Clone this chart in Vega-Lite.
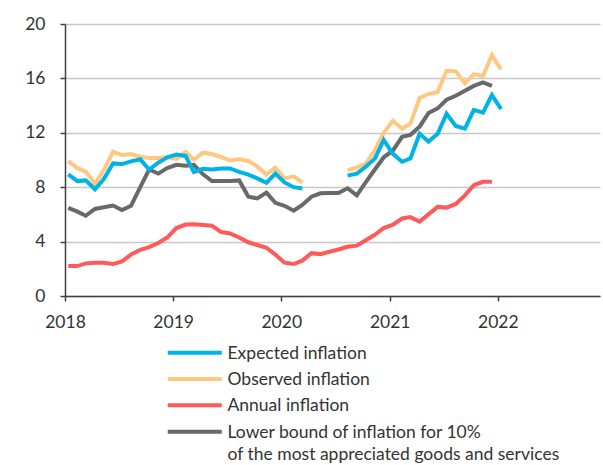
{
  "$schema": "https://vega.github.io/schema/vega-lite/v6.json",
  "width": 535,
  "height": 272,
  "autosize": {"type": "none"},
  "padding": {"left": 65, "top": 24, "right": 3, "bottom": 169},
  "background": "white",
  "config": {
    "view": {"stroke": null},
    "font": "Lato",
    "mark": {"invalid": "break-paths-show-domains"}
  },
  "data": {
    "values": [
      {"date": "2018-01-12", "exp": 8.95, "obs": 9.92, "ann": 2.2, "low": 6.48},
      {"date": "2018-02-12", "exp": 8.45, "obs": 9.4, "ann": 2.2, "low": 6.2},
      {"date": "2018-03-12", "exp": 8.5, "obs": 9.15, "ann": 2.4, "low": 5.9},
      {"date": "2018-04-12", "exp": 7.85, "obs": 8.25, "ann": 2.45, "low": 6.4},
      {"date": "2018-05-12", "exp": 8.6, "obs": 9.26, "ann": 2.45, "low": 6.52},
      {"date": "2018-06-12", "exp": 9.75, "obs": 10.6, "ann": 2.35, "low": 6.65},
      {"date": "2018-07-12", "exp": 9.7, "obs": 10.37, "ann": 2.55, "low": 6.32},
      {"date": "2018-08-12", "exp": 9.9, "obs": 10.44, "ann": 3.05, "low": 6.64},
      {"date": "2018-09-12", "exp": 10.05, "obs": 10.24, "ann": 3.4, "low": 8.0},
      {"date": "2018-10-12", "exp": 9.3, "obs": 10.15, "ann": 3.6, "low": 9.3},
      {"date": "2018-11-12", "exp": 9.8, "obs": 10.15, "ann": 3.9, "low": 9.0},
      {"date": "2018-12-12", "exp": 10.2, "obs": 10.2, "ann": 4.3, "low": 9.4},
      {"date": "2019-01-12", "exp": 10.4, "obs": 10.08, "ann": 5.0, "low": 9.65},
      {"date": "2019-02-12", "exp": 10.3, "obs": 10.6, "ann": 5.25, "low": 9.58},
      {"date": "2019-03-12", "exp": 9.12, "obs": 10.02, "ann": 5.27, "low": 9.65},
      {"date": "2019-04-12", "exp": 9.35, "obs": 10.54, "ann": 5.22, "low": 8.95},
      {"date": "2019-05-12", "exp": 9.3, "obs": 10.44, "ann": 5.17, "low": 8.45},
      {"date": "2019-06-12", "exp": 9.38, "obs": 10.22, "ann": 4.7, "low": 8.45},
      {"date": "2019-07-12", "exp": 9.38, "obs": 9.97, "ann": 4.6, "low": 8.45},
      {"date": "2019-08-12", "exp": 9.13, "obs": 10.06, "ann": 4.3, "low": 8.5},
      {"date": "2019-09-12", "exp": 8.93, "obs": 9.93, "ann": 3.95, "low": 7.3},
      {"date": "2019-10-12", "exp": 8.65, "obs": 9.53, "ann": 3.75, "low": 7.18},
      {"date": "2019-11-12", "exp": 8.33, "obs": 8.93, "ann": 3.55, "low": 7.6},
      {"date": "2019-12-12", "exp": 9.0, "obs": 9.43, "ann": 3.05, "low": 6.85},
      {"date": "2020-01-12", "exp": 8.35, "obs": 8.65, "ann": 2.45, "low": 6.63},
      {"date": "2020-02-12", "exp": 8.0, "obs": 8.8, "ann": 2.35, "low": 6.27},
      {"date": "2020-03-12", "exp": 7.9, "obs": 8.33, "ann": 2.6, "low": 6.7},
      {"date": "2020-04-12", "exp": null, "obs": null, "ann": 3.15, "low": 7.3},
      {"date": "2020-05-12", "exp": null, "obs": null, "ann": 3.08, "low": 7.55},
      {"date": "2020-06-12", "exp": null, "obs": null, "ann": 3.25, "low": 7.57},
      {"date": "2020-07-12", "exp": null, "obs": null, "ann": 3.42, "low": 7.57},
      {"date": "2020-08-12", "exp": 8.85, "obs": 9.23, "ann": 3.62, "low": 7.92},
      {"date": "2020-09-12", "exp": 9.0, "obs": 9.46, "ann": 3.7, "low": 7.4},
      {"date": "2020-10-12", "exp": 9.5, "obs": 9.72, "ann": 4.1, "low": 8.35},
      {"date": "2020-11-12", "exp": 10.1, "obs": 10.73, "ann": 4.5, "low": 9.3},
      {"date": "2020-12-12", "exp": 11.47, "obs": 12.0, "ann": 5.0, "low": 10.2},
      {"date": "2021-01-12", "exp": 10.45, "obs": 12.88, "ann": 5.25, "low": 10.7},
      {"date": "2021-02-12", "exp": 9.87, "obs": 12.3, "ann": 5.7, "low": 11.7},
      {"date": "2021-03-12", "exp": 10.12, "obs": 12.67, "ann": 5.8, "low": 11.85},
      {"date": "2021-04-12", "exp": 11.93, "obs": 14.56, "ann": 5.47, "low": 12.45},
      {"date": "2021-05-12", "exp": 11.35, "obs": 14.85, "ann": 6.0, "low": 13.45},
      {"date": "2021-06-12", "exp": 11.93, "obs": 15.0, "ann": 6.55, "low": 13.8},
      {"date": "2021-07-12", "exp": 13.4, "obs": 16.56, "ann": 6.5, "low": 14.43},
      {"date": "2021-08-12", "exp": 12.5, "obs": 16.52, "ann": 6.77, "low": 14.72},
      {"date": "2021-09-12", "exp": 12.3, "obs": 15.64, "ann": 7.4, "low": 15.1},
      {"date": "2021-10-12", "exp": 13.68, "obs": 16.31, "ann": 8.15, "low": 15.45},
      {"date": "2021-11-12", "exp": 13.48, "obs": 16.18, "ann": 8.4, "low": 15.7},
      {"date": "2021-12-12", "exp": 14.78, "obs": 17.7, "ann": 8.4, "low": 15.45},
      {"date": "2022-01-12", "exp": 13.74, "obs": 16.67, "ann": null, "low": null}
    ]
  },
  "transform": [
    {"fold": ["low", "ann", "obs", "exp"], "as": ["series", "value"]}
  ],
  "mark": {"type": "line", "strokeCap": "butt", "strokeJoin": "miter"},
  "encoding": {
    "x": {
      "field": "date",
      "type": "temporal",
      "scale": {"type": "utc", "domain": [{"year": 2018, "month": 1, "date": 1, "utc": true}, {"year": 2022, "month": 12, "date": 12, "utc": true}]},
      "axis": {
        "title": null,
        "format": "%Y",
        "formatType": "utc",
        "tickCount": {"interval": "year", "step": 1},
        "grid": false,
        "domainColor": "#404040",
        "domainWidth": 1.5,
        "tickColor": "#404040",
        "tickWidth": 1.5,
        "tickSize": 5,
        "labelFontSize": 17.5,
        "labelColor": "#333333",
        "labelPadding": 12,
        "labelFlush": false
      }
    },
    "y": {
      "field": "value",
      "type": "quantitative",
      "scale": {"domain": [0, 20], "nice": false},
      "axis": {
        "title": null,
        "values": [0, 4, 8, 12, 16, 20],
        "gridColor": "#c8c8c8",
        "gridWidth": 1.5,
        "domainColor": "#404040",
        "domainWidth": 1.5,
        "tickColor": "#404040",
        "tickWidth": 1.5,
        "tickSize": 5,
        "labelFontSize": 17.5,
        "labelColor": "#333333",
        "labelPadding": 15
      }
    },
    "color": {
      "field": "series",
      "type": "nominal",
      "scale": {
        "domain": ["exp", "obs", "ann", "low"],
        "range": ["#00B3E6", "#FFC882", "#FF5A5A", "#696969"]
      },
      "legend": {
        "title": null,
        "orient": "none",
        "legendX": 121,
        "legendY": 320,
        "padding": 0,
        "symbolType": "M-5,0H5",
        "symbolSize": 116.64,
        "symbolStrokeWidth": 4,
        "labelFontSize": 17.5,
        "labelColor": "#333333",
        "labelOffset": 24,
        "labelLimit": 0,
        "rowPadding": 7.3,
        "labelBaseline": "alphabetic",
        "labelExpr": "datum.label == 'exp' ? 'Expected inflation' : datum.label == 'obs' ? 'Observed inflation' : datum.label == 'ann' ? 'Annual inflation' : ['Lower bound of inflation for 10%', 'of the most appreciated goods and services']",
        "encode": {
          "labels": {"update": {"dy": {"value": 6}, "lineHeight": {"value": 22.5}}}
        }
      }
    },
    "strokeWidth": {
      "field": "series",
      "type": "nominal",
      "scale": {"domain": ["exp", "obs", "ann", "low"], "range": [4, 4, 4, 3]},
      "legend": null
    }
  }
}
